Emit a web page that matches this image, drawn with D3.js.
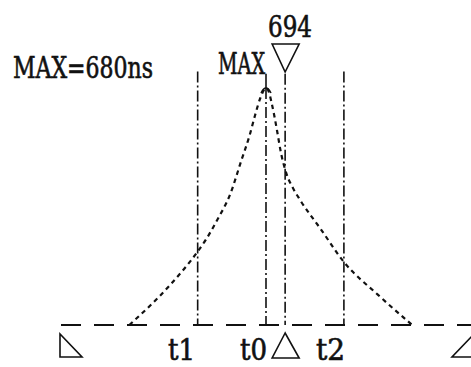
<!DOCTYPE html>
<html>
<head>
<meta charset="utf-8">
<script src="https://cdn.jsdelivr.net/npm/d3@7"></script>
<style>
  html, body { margin: 0; padding: 0; background: #fff; }
  svg { display: block; }
  text { font-family: "DejaVu Serif Condensed", "DejaVu Serif", serif; fill: #111; stroke: #111; stroke-width: 0.6; }
</style>
</head>
<body>
<svg id="chart" width="471" height="367"></svg>
<script>
// Pulse waveform: time in ns, amplitude in % of peak
const timeNs = [580, 610, 630, 636, 644, 654, 662, 668, 672, 676, 680,
                682, 684, 686, 688, 691, 695, 700, 705, 720, 737, 762, 787];
const amplitude = [0, 17, 31, 36, 44, 55.5, 69.5, 80, 88.5, 96, 100,
                   98.5, 94, 88.5, 82.3, 72.5, 63.8, 57.5, 52.7, 40.5, 26.6, 12.7, 0];

// Time markers (ns)
const markerNames = ["t1", "t0", "t2"];
const markerTimes = [630, 680, 737];
const cursorTime = 694;
const maxTime = 680;
const timeRange = [530, 830];

const svg = d3.select("#chart");
const x = d3.scaleLinear().domain(timeRange).range([61, 471]);
const y = d3.scaleLinear().domain([0, 100]).range([325, 88]);
const ink = "#111";

// Baseline
svg.append("line")
  .attr("x1", x(timeRange[0])).attr("x2", x(timeRange[1]))
  .attr("y1", y(0)).attr("y2", y(0))
  .attr("stroke", ink).attr("stroke-width", 2)
  .attr("stroke-dasharray", "20,13");

// Marker lines (dash-dot)
const dashDot = "11,3,2,3";
markerTimes.forEach((t, i) => {
  svg.append("line")
    .attr("x1", x(t)).attr("x2", x(t))
    .attr("y1", y(i === 1 ? 100 : 107)).attr("y2", y(0))
    .attr("stroke", ink).attr("stroke-width", 1.6)
    .attr("stroke-dasharray", dashDot);
});
// Peak tick up to the MAX label
svg.append("line")
  .attr("x1", x(maxTime)).attr("x2", x(maxTime))
  .attr("y1", y(106)).attr("y2", y(100))
  .attr("stroke", ink).attr("stroke-width", 1.6);

// Cursor line
svg.append("line")
  .attr("x1", x(cursorTime)).attr("x2", x(cursorTime))
  .attr("y1", y(106)).attr("y2", y(0))
  .attr("stroke", ink).attr("stroke-width", 1.6)
  .attr("stroke-dasharray", dashDot);

// Waveform (dotted)
const line = d3.line().x((d, i) => x(timeNs[i])).y((d) => y(d)).curve(d3.curveMonotoneX);
svg.append("path")
  .attr("d", line(amplitude))
  .attr("fill", "none").attr("stroke", ink).attr("stroke-width", 2.2)
  .attr("stroke-dasharray", "4.5,4");

// Peak cap
const peakX = x(maxTime), peakY = y(100);
svg.append("path")
  .attr("d", `M${peakX - 5},${peakY + 5} Q${peakX},${peakY - 5} ${peakX + 5},${peakY + 5}`)
  .attr("fill", "none").attr("stroke", ink).attr("stroke-width", 1.5);

// Triangles
const tri = (pts) => "M" + pts.map(p => p.join(",")).join("L") + "Z";
const cx = x(cursorTime);
svg.append("path").attr("d", tri([[cx - 13, 44], [cx + 14, 44], [cx, 72]]))
  .attr("fill", "none").attr("stroke", ink).attr("stroke-width", 1.6);
svg.append("path").attr("d", tri([[cx, 333], [cx - 13, 358], [cx + 14, 358]]))
  .attr("fill", "none").attr("stroke", ink).attr("stroke-width", 1.6);
const lx = x(timeRange[0]);
svg.append("path").attr("d", tri([[lx - 1, 334], [lx - 1, 357], [lx + 21, 357]]))
  .attr("fill", "none").attr("stroke", ink).attr("stroke-width", 1.6);
const rx = x(timeRange[1]);
svg.append("path").attr("d", tri([[rx + 3, 334], [rx + 3, 357], [rx - 19, 357]]))
  .attr("fill", "none").attr("stroke", ink).attr("stroke-width", 1.6);

// Labels
function label(txt, px, py, w) {
  svg.append("text").attr("x", px).attr("y", py)
    .attr("font-size", 29)
    .attr("textLength", w).attr("lengthAdjust", "spacingAndGlyphs")
    .text(txt);
}
label(`MAX=${maxTime}ns`, 13, 78, 140);
label("MAX", 218, 74, 47);
label(String(cursorTime), 268, 37, 44);
label(markerNames[0], 168, 360, 27);
label(markerNames[1], 240, 360, 27);
label(markerNames[2], 316, 360, 29);
</script>
</body>
</html>
